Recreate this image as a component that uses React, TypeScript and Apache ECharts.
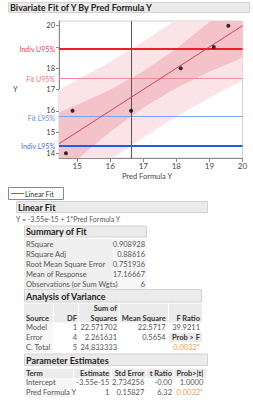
import React, { useEffect, useRef } from 'react';
import * as echarts from 'echarts';

// ---- data ----
const predX = [14.66, 14.86, 16.63, 18.13, 19.13, 19.57];
const yObs = [14, 16, 16, 18, 19, 20];
const fitLineX = [14.45, 20];
const fitLineY = [14.45, 20];
const bandX = [14.45, 15, 16, 17, 18, 19, 20];
const fitLower = [12.98, 13.72, 15.01, 16.15, 17.07, 17.83, 18.49];
const fitUpper = [15.92, 16.28, 16.99, 17.86, 18.93, 20.17, 21.51];
const indivLower = [11.90, 12.55, 13.69, 14.74, 15.72, 16.61, 17.43];
const indivUpper = [17.00, 17.45, 18.31, 19.26, 20.28, 21.39, 22.58];
const ciLabels = ['Indiv U95%', 'Fit U95%', 'Fit L95%', 'Indiv L95%'];
const ciValues = [18.90, 17.51, 15.75, 14.36];
const crossX = 16.63;
const xTicks = [15, 16, 17, 18, 19, 20];
const yTickMarks = [14, 15, 16, 17, 18, 19, 20];
const yTickLabels = [14, 15, 16, 17, 18, 20];

const summaryLabels = ['RSquare', 'RSquare Adj', 'Root Mean Square Error', 'Mean of Response', 'Observations (or Sum Wgts)'];
const summaryValues = ['0.908928', '0.88616', '0.751936', '17.16667', '6'];

const anovaHeader = ['Source', 'DF', 'Squares', 'Mean Square', 'F Ratio'];
const anovaSource = ['Model', 'Error', 'C. Total'];
const anovaDF = ['1', '4', '5'];
const anovaSS = ['22.571702', '2.261631', '24.833333'];
const anovaMS = ['22.5717', '0.5654', ''];
const anovaF = ['39.9211', 'Prob > F', '0.0032*'];

const paramHeader = ['Term', 'Estimate', 'Std Error', 't Ratio', 'Prob>|t|'];
const paramTerm = ['Intercept', 'Pred Formula Y'];
const paramEst = ['-3.55e-15', '1'];
const paramSE = ['2.734256', '0.15827'];
const paramT = ['-0.00', '6.32'];
const paramP = ['1.0000', '0.0032*'];

const FONT = 'Lato, "Open Sans", sans-serif';
const TXT = '#404040';
const ORANGE = '#f29d4b';

function txt(text: string, x: number, y: number, o: any = {}) {
  return {
    type: 'text',
    x, y,
    silent: true,
    z: 10,
    style: {
      text,
      fill: o.color || TXT,
      font: `${o.bold ? 'bold ' : ''}${o.size || 7.5}px ${FONT}`,
      textAlign: o.align || 'left',
      textVerticalAlign: 'middle',
    },
  };
}
function box(x: number, y: number, w: number, h: number, fill: string, stroke?: string) {
  return {
    type: 'rect',
    silent: true,
    z: 5,
    shape: { x, y, width: w, height: h },
    style: { fill, stroke: stroke || null, lineWidth: stroke ? 1 : 0 },
  };
}

const HDR = '#ebebeb';
const HDR_STROKE = '#d2d2d2';
const CELL = '#efefef';
const CELL2 = '#f6f6f6';

function buildGraphics() {
  const g: any[] = [];
  g.push(box(8.5, 2.5, 241, 10, HDR, HDR_STROKE));
  g.push(txt('Bivariate Fit of Y By Pred Formula Y', 10, 7.8, { bold: true, size: 9, color: '#222' }));
  g.push(txt('Y', 13, 89.5, { size: 7.5, color: '#444' }));
  g.push(txt('Pred Formula Y', 147, 176.5, { size: 7.5, color: '#444', align: 'center' }));
  // legend
  g.push(box(8.5, 187.5, 55, 12, '#ffffff', '#8a8a8a'));
  g.push({ type: 'line', silent: true, z: 10, shape: { x1: 11, y1: 193.5, x2: 24, y2: 193.5 }, style: { stroke: '#d9424f', lineWidth: 1 } });
  g.push(txt('Linear Fit', 25, 193.7, { size: 7, color: '#333' }));
  // Linear Fit
  g.push(box(16.5, 201.5, 191, 11, HDR, HDR_STROKE));
  g.push(txt('Linear Fit', 18, 207.2, { bold: true, size: 9, color: '#222' }));
  g.push(txt('Y = -3.55e-15 + 1*Pred Formula Y', 16, 219, { size: 7, color: '#555' }));
  // Summary of Fit
  g.push(box(24.5, 226, 122, 11, HDR, HDR_STROKE));
  g.push(txt('Summary of Fit', 26, 231.7, { bold: true, size: 9, color: '#222' }));
  g.push(box(24, 239, 89, 50, CELL));
  g.push(box(114, 239, 33, 50, CELL2));
  summaryLabels.forEach((l, i) => {
    g.push(txt(l, 26, 244 + i * 10, { size: 7.5, color: '#555' }));
    g.push(txt(summaryValues[i], 145, 244 + i * 10, { size: 7.5, color: '#555', align: 'right' }));
  });
  // Analysis of Variance
  g.push(box(24.5, 289.5, 177, 12.5, HDR, HDR_STROKE));
  g.push(txt('Analysis of Variance', 26, 296, { bold: true, size: 9, color: '#222' }));
  const aCells = [[24, 53], [54, 78], [79, 119], [120, 168], [169, 202]];
  aCells.forEach(([a, b]) => g.push(box(a, 303.5, b - a, 19, HDR)));
  const aRight = [null, 77, 117, 165.7, 200];
  g.push(txt('Sum of', 117, 308.5, { bold: true, size: 7.5, color: '#333', align: 'right' }));
  anovaHeader.forEach((h, i) => {
    if (i === 0) g.push(txt(h, 26, 318.5, { bold: true, size: 7.5, color: '#333' }));
    else g.push(txt(h, aRight[i] as number, 318.5, { bold: true, size: 7.5, color: '#333', align: 'right' }));
  });
  g.push(box(24, 323, 29, 29, CELL2));
  g.push(box(169, 332.5, 33, 9.5, HDR));
  anovaSource.forEach((s, i) => {
    const y = 327.5 + i * 10;
    g.push(txt(s, 26, y, { size: 7.5, color: '#555' }));
    g.push(txt(anovaDF[i], 77, y, { size: 7.5, color: '#555', align: 'right' }));
    g.push(txt(anovaSS[i], 117, y, { size: 7.5, color: '#555', align: 'right' }));
    if (anovaMS[i]) g.push(txt(anovaMS[i], 165.7, y, { size: 7.5, color: '#555', align: 'right' }));
    const isProb = anovaF[i] === 'Prob > F';
    const isSig = anovaF[i].endsWith('*');
    g.push(txt(anovaF[i], 200, y, { size: 7.5, bold: isProb, color: isSig ? ORANGE : isProb ? '#333' : '#555', align: 'right' }));
  });
  // Parameter Estimates
  g.push(box(24.5, 354, 183, 11.5, HDR, HDR_STROKE));
  g.push(txt('Parameter Estimates', 26, 360, { bold: true, size: 9, color: '#222' }));
  const pCells = [[24, 73], [74, 111], [112, 146], [147, 173], [174, 206]];
  pCells.forEach(([a, b]) => g.push(box(a, 368.5, b - a, 9.5, HDR)));
  const pRight = [null, 109.3, 144.3, 172, 203.3];
  paramHeader.forEach((h, i) => {
    if (i === 0) g.push(txt(h, 26, 373.3, { bold: true, size: 7.5, color: '#333' }));
    else g.push(txt(h, pRight[i] as number, 373.3, { bold: true, size: 7.5, color: '#333', align: 'right' }));
  });
  g.push(box(24, 378, 49, 19, CELL2));
  paramTerm.forEach((t, i) => {
    const y = 382.7 + i * 9.3;
    g.push(txt(t, 26, y, { size: 7.5, color: '#555' }));
    g.push(txt(paramEst[i], 109.3, y, { size: 7.5, color: '#555', align: 'right' }));
    g.push(txt(paramSE[i], 144.3, y, { size: 7.5, color: '#555', align: 'right' }));
    g.push(txt(paramT[i], 172, y, { size: 7.5, color: '#555', align: 'right' }));
    const sig = paramP[i].endsWith('*');
    g.push(txt(paramP[i], 203.3, y, { size: 7.5, color: sig ? ORANGE : '#555', align: 'right' }));
  });
  return g;
}

const ciColors = ['#ee1c2e', '#f28b96', '#7aa3f2', '#1f5ce8'];
const ciWidths = [2, 1, 1, 2];
const ciLabelColors = ['#e8405a', '#f0707f', '#5f8ef0', '#3f72e8'];
const ciLabelShift = [0, 0, 2.3, 0];

// Sutherland–Hodgman clipping of a polygon to the grid rectangle
function clipPolygon(pts: number[][], r: { x: number; y: number; width: number; height: number }) {
  const bounds: [number, number, boolean][] = [
    [0, r.x, true], [0, r.x + r.width, false], [1, r.y, true], [1, r.y + r.height, false],
  ];
  let out = pts;
  for (const [ax, v, greater] of bounds) {
    const input = out;
    out = [];
    if (!input.length) break;
    const inside = (p: number[]) => (greater ? p[ax] >= v : p[ax] <= v);
    const cut = (a: number[], b: number[]) => {
      const t = (v - a[ax]) / (b[ax] - a[ax]);
      return [a[0] + t * (b[0] - a[0]), a[1] + t * (b[1] - a[1])];
    };
    for (let i = 0; i < input.length; i++) {
      const cur = input[i];
      const prev = input[(i + input.length - 1) % input.length];
      if (inside(cur)) {
        if (!inside(prev)) out.push(cut(prev, cur));
        out.push(cur);
      } else if (inside(prev)) {
        out.push(cut(prev, cur));
      }
    }
  }
  return out;
}

function bandSeries(lower: number[], upper: number[], color: string, z: number) {
  return {
    type: 'custom',
    silent: true,
    z,
    clip: false,
    data: [[bandX[0], lower[0]]],
    renderItem: (params: any, api: any) => {
      const pts: number[][] = [];
      bandX.forEach((x, i) => pts.push(api.coord([x, upper[i]])));
      for (let i = bandX.length - 1; i >= 0; i--) pts.push(api.coord([bandX[i], lower[i]]));
      const cs = params.coordSys;
      const clipped = clipPolygon(pts, { x: cs.x, y: cs.y, width: cs.width, height: cs.height });
      return {
        type: 'polygon',
        shape: { points: clipped },
        style: { fill: color, stroke: null },
      };
    },
  };
}

export default function App() {
  const ref = useRef<HTMLDivElement>(null);
  useEffect(() => {
    const chart = echarts.init(ref.current!, null, { renderer: 'svg' });
    const markData: any[] = ciValues.map((v, i) => ({
      yAxis: v,
      lineStyle: { color: ciColors[i], width: ciWidths[i], type: 'solid' },
      label: {
        show: true,
        position: 'start',
        distance: 4,
        offset: [0, ciLabelShift[i]],
        formatter: ciLabels[i],
        color: ciLabelColors[i],
        fontSize: 7,
        lineHeight: 5,
        fontFamily: FONT,
      },
    }));
    markData.push({
      xAxis: crossX,
      lineStyle: { color: '#555555', width: 1, type: 'solid' },
      label: { show: false },
    });
    chart.setOption({
      animation: false,
      grid: {
        left: 59,
        top: 21,
        width: 183.5,
        height: 137,
        show: true,
        backgroundColor: '#ffffff',
        borderColor: '#cfcfcf',
        borderWidth: 1,
      },
      xAxis: {
        type: 'value',
        min: 14.45,
        max: 20,
        splitLine: { show: false },
        axisLine: { lineStyle: { color: '#8a8a8a' } },
        axisTick: { show: true, length: 4, lineStyle: { color: '#8a8a8a' }, customValues: xTicks },
        axisLabel: { customValues: xTicks, fontSize: 8, color: '#444', margin: 4, fontFamily: FONT },
      },
      yAxis: {
        type: 'value',
        min: 13.78,
        max: 20.22,
        splitLine: { show: false },
        axisLine: { show: true, lineStyle: { color: '#8a8a8a' } },
        axisTick: { show: true, length: 3, lineStyle: { color: '#8a8a8a' }, customValues: yTickMarks },
        axisLabel: { customValues: yTickLabels, fontSize: 7.5, lineHeight: 5, color: '#444', margin: 4, fontFamily: FONT },
      },
      graphic: buildGraphics(),
      series: [
        bandSeries(indivLower, indivUpper, '#fbe4e7', 1),
        bandSeries(fitLower, fitUpper, '#f3c3c9', 2),
        {
          type: 'line', symbol: 'none', silent: true,
          lineStyle: { color: '#d9424f', width: 1 },
          data: fitLineX.map((x, i) => [x, fitLineY[i]]),
          z: 4,
          markLine: { symbol: 'none', silent: true, data: markData, z: 3 },
        },
        {
          type: 'scatter', symbolSize: 4, silent: true,
          itemStyle: { color: '#000000' },
          data: predX.map((x, i) => [x, yObs[i]]),
          z: 6,
        },
      ],
    });
    return () => chart.dispose();
  }, []);
  return <div ref={ref} style={{ position: 'absolute', left: 0, top: 0, width: 253, height: 400 }} />;
}
